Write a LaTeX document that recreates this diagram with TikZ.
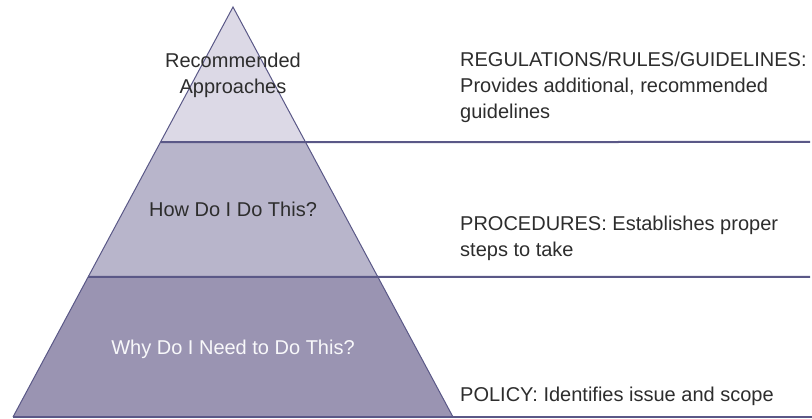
\documentclass[tikz,border=0pt]{standalone}
\usepackage{fontspec}
\setmainfont{Liberation Sans}
\usetikzlibrary{calc}
\definecolor{edge}{RGB}{90,88,135}
\definecolor{tierA}{RGB}{220,217,230}
\definecolor{tierB}{RGB}{184,181,203}
\definecolor{tierC}{RGB}{154,148,178}
\definecolor{ink}{RGB}{45,45,45}
\begin{document}
\begin{tikzpicture}[x=1pt,y=-1pt,font=\fontsize{20}{26}\selectfont,text=ink,
  divider/.style={draw=edge,line width=2pt},
  tierlabel/.style={inner sep=0pt,align=center,anchor=base},
  note/.style={inner sep=0pt,align=left,anchor=base west}]
\useasboundingbox(0,0)rectangle(812,419);
\coordinate(apex)at(233,7);
\coordinate(bl)at(13,417);
\coordinate(br)at(453,417);
\coordinate(l1)at($(apex)!0.3293!(bl)$);
\coordinate(r1)at($(apex)!0.3293!(br)$);
\coordinate(l2)at($(apex)!0.6585!(bl)$);
\coordinate(r2)at($(apex)!0.6585!(br)$);
\coordinate(e1)at(810,142);
\coordinate(e2)at(810,277);
\coordinate(e3)at(812,417);
\fill[tierA](apex)--(l1)--(r1)--cycle;
\fill[tierB](l1)--(r1)--(r2)--(l2)--cycle;
\fill[tierC](l2)--(r2)--(br)--(bl)--cycle;
\draw[edge,line width=1pt](bl)--(apex)--(br);
\draw[divider](l1)--(e1);
\draw[divider](l2)--(e2);
\draw[divider](bl)--(e3);
\node[tierlabel](approaches)at(233,94){Recommended\\Approaches};
\node[tierlabel](how)at(233,217){How Do I Do This?};
\node[tierlabel,text=white!93!tierC](why)at(233,355){Why Do I Need to Do This?};
\node[note](regs)at(460,119){REGULATIONS/RULES/GUIDELINES:\\Provides additional, recommended\\guidelines};
\node[note](procs)at(460,257){PROCEDURES: Establishes proper\\steps to take};
\node[note](policy)at(460,402){POLICY: Identifies issue and scope};
\end{tikzpicture}
\end{document}
